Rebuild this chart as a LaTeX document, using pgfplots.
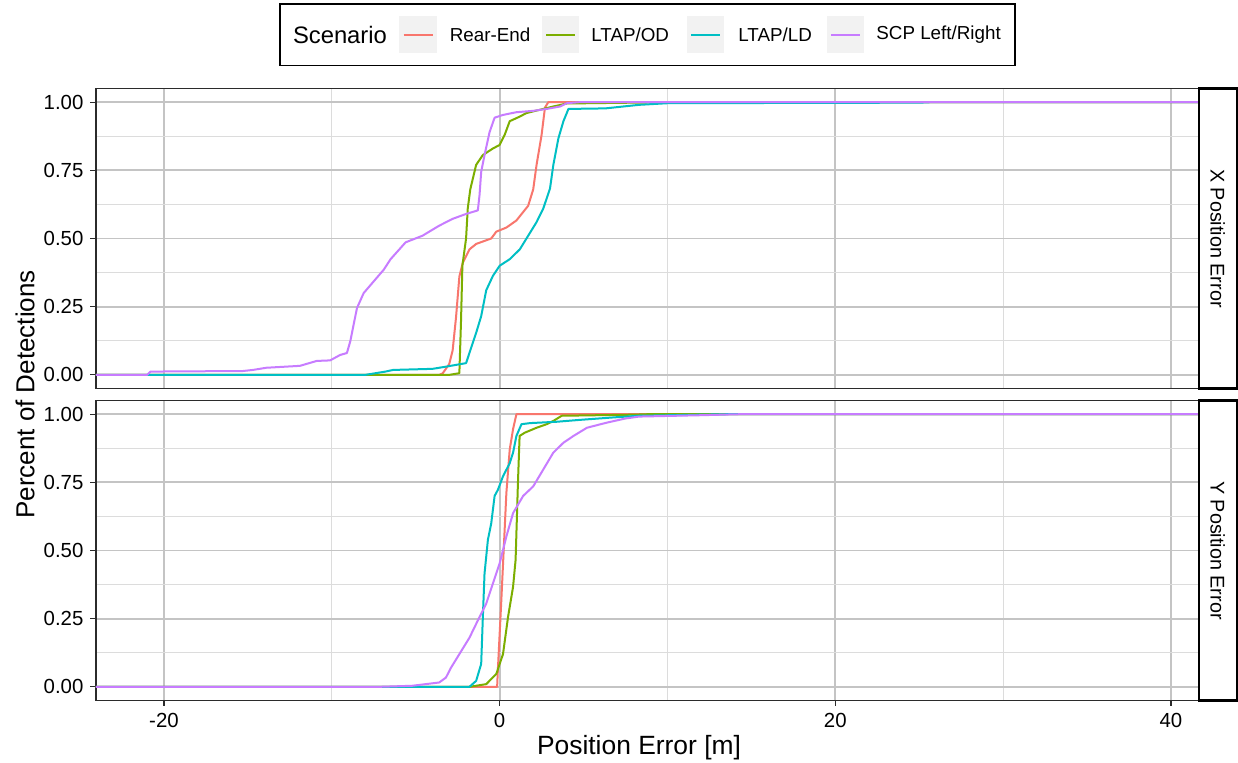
\documentclass[border=0pt]{standalone}
\usepackage{pgfplots}
\pgfplotsset{compat=1.18}
\usepackage{fontspec}
\setmainfont{Liberation Sans}

\definecolor{rearend}{HTML}{F8766D}
\definecolor{ltapod}{HTML}{7CAE00}
\definecolor{ltapld}{HTML}{00BFC4}
\definecolor{scp}{HTML}{C77CFF}
\definecolor{gridmaj}{HTML}{C4C4C4}
\definecolor{gridmin}{HTML}{DCDCDC}
\definecolor{axdark}{HTML}{2B2B2B}
\definecolor{keybg}{HTML}{F2F2F2}

\tikzset{strip/.style={draw=black, line width=1.1pt, fill=white}}

\pgfplotsset{
  ecdfpanel/.style={
    scale only axis,
    width=551.5pt, height=150pt,
    anchor=south west,
    xmin=-24.05, xmax=41.67,
    ymin=-0.05, ymax=1.05,
    xtick={-20,0,20,40},
    minor xtick={-10,10,30},
    ytick={0,0.25,0.5,0.75,1},
    minor ytick={0.125,0.375,0.625,0.875},
    yticklabel style={/pgf/number format/.cd,fixed,fixed zerofill,precision=2},
    /pgf/number format/assume math mode=true,
    tick label style={font=\fontsize{10.2}{12}\selectfont, text=black},
    grid=both,
    major grid style={draw=gridmaj, line width=0.95pt},
    minor grid style={draw=gridmin, line width=0.55pt},
    minor tick length=0pt,
    major tick length=2.75pt,
    tick align=outside,
    tick pos=left,
    tick style={draw=axdark, line width=0.6pt},
    axis line style={draw=axdark, line width=0.75pt},
    every axis plot/.append style={line width=1pt, line join=round},
    axis background/.style={fill=white},
    clip=true,
  },
}

\begin{document}
\begin{tikzpicture}[x=1pt,y=1pt]
\useasboundingbox (-48,-31.25) rectangle (571,350.25);

% ---------------- X position error ----------------
\begin{axis}[ecdfpanel, at={(0pt,156pt)}, xticklabels={},
  xtick style={draw=none},
  major x grid style={draw=gridmaj, line width=0.95pt}]
\addplot[rearend] coordinates {
(-30,0) (-3.6,0) (-3.4,0.005) (-3.0,0.04) (-2.8,0.09) (-2.6,0.21) (-2.4,0.36)
(-2.2,0.41) (-1.8,0.46) (-1.4,0.48) (-0.5,0.50) (-0.2,0.525) (0.4,0.54)
(1.0,0.566) (1.7,0.62) (2.0,0.68) (2.2,0.77) (2.5,0.88) (2.7,0.98) (2.9,1.0) (50,1)};
\addplot[ltapod] coordinates {
(-30,0) (-3.0,0) (-2.4,0.006) (-2.3,0.2) (-2.22,0.40) (-2.0,0.50) (-1.9,0.61)
(-1.75,0.68) (-1.4,0.77) (-1.0,0.806) (-0.4,0.83) (0,0.843) (0.3,0.88)
(0.6,0.93) (1.2,0.947) (1.6,0.96) (2.4,0.972) (3.2,0.984) (4.0,0.995)
(8,0.998) (10.5,1) (50,1)};
\addplot[ltapld] coordinates {
(-30,0) (-8.0,0) (-7.5,0.005) (-6.8,0.012) (-6.35,0.018) (-4,0.022)
(-3.2,0.03) (-2.0,0.043) (-1.8,0.08) (-1.4,0.154) (-1.1,0.215) (-0.8,0.31)
(-0.4,0.363) (0,0.40) (0.6,0.424) (1.2,0.46) (1.6,0.50) (2.2,0.56) (2.6,0.61)
(3.0,0.683) (3.2,0.77) (3.5,0.867) (3.8,0.93) (4.1,0.975) (6.3,0.977)
(8.3,0.99) (10,0.996) (25,0.998) (25.8,1) (50,1)};
\addplot[scp] coordinates {
(-30,0) (-21.0,0) (-20.8,0.012) (-15.3,0.014) (-14.7,0.018) (-13.9,0.026)
(-11.9,0.033) (-10.9,0.051) (-10.1,0.053) (-9.5,0.073) (-9.1,0.08)
(-8.9,0.123) (-8.5,0.245) (-8.1,0.30) (-7.5,0.343) (-6.9,0.386) (-6.5,0.424)
(-5.6,0.486) (-4.6,0.51) (-3.6,0.547) (-2.8,0.572) (-2.0,0.59) (-1.3,0.603)
(-1.2,0.658) (-1.1,0.744) (-0.9,0.806) (-0.6,0.89) (-0.3,0.943) (0.2,0.953)
(1.0,0.963) (2.0,0.968) (2.8,0.975) (3.6,0.984) (4.0,0.996) (4.8,1) (50,1)};
\end{axis}

% ---------------- Y position error ----------------
\begin{axis}[ecdfpanel, at={(0pt,0pt)}]
\addplot[rearend] coordinates {
(-30,0) (-0.15,0) (-0.1,0.07) (0.1,0.317) (0.24,0.50) (0.4,0.71) (0.6,0.87)
(0.8,0.945) (1.0,1.0) (50,1)};
\addplot[ltapod] coordinates {
(-30,0) (-1.8,0) (-0.8,0.01) (-0.2,0.047) (0.2,0.12) (0.5,0.256) (0.8,0.367)
(0.95,0.465) (1.03,0.625) (1.09,0.748) (1.19,0.92) (1.5,0.932) (2.2,0.95)
(2.8,0.963) (3.2,0.975) (3.7,0.994) (8,0.998) (9,1) (50,1)};
\addplot[ltapld] coordinates {
(-30,0) (-1.8,0) (-1.4,0.022) (-1.1,0.084) (-1.0,0.256) (-0.9,0.416)
(-0.8,0.477) (-0.7,0.539) (-0.5,0.60) (-0.3,0.70) (-0.1,0.723) (0.2,0.772)
(0.6,0.82) (0.8,0.859) (1.0,0.92) (1.3,0.963) (1.8,0.967) (3.4,0.972)
(4.8,0.979) (6.8,0.988) (8.3,0.994) (13.9,1) (50,1)};
\addplot[scp] coordinates {
(-30,0) (-7.2,0) (-5.2,0.004) (-3.6,0.016) (-3.2,0.034) (-2.9,0.07)
(-2.4,0.12) (-1.8,0.18) (-1.2,0.256) (-0.8,0.305) (-0.4,0.379) (0,0.453)
(0.4,0.551) (0.8,0.637) (1.4,0.70) (2.0,0.735) (2.6,0.797) (3.2,0.859)
(3.8,0.895) (4.4,0.92) (5.2,0.95) (6.4,0.969) (7.5,0.984) (8.3,0.991)
(12,0.996) (14.5,1) (50,1)};
\end{axis}

% facet strips
\draw[strip] (551.5,156) rectangle (570.3,306);
\node[rotate=-90, font=\fontsize{9.9}{12}\selectfont] at (560.9,231) {X Position Error};
\draw[strip] (551.5,0) rectangle (570.3,150);
\node[rotate=-90, font=\fontsize{9.9}{12}\selectfont] at (560.9,75) {Y Position Error};

% axis titles
\node[font=\fontsize{13.2}{15}\selectfont] at (271.5,-23.75) {Position Error [m]};
\node[rotate=90, font=\fontsize{13}{15}\selectfont] at (-35.5,153) {Percent of Detections};

% legend
\draw[black, line width=0.75pt, fill=white] (92,317.4) rectangle (459.5,348.25);
\node[anchor=west, inner sep=0pt, font=\fontsize{11.9}{14}\selectfont] at (98.3,332.75) {Scenario};
\foreach \kx/\col in {151.7/rearend, 223/ltapod, 295.5/ltapld, 365.5/scp}{
  \fill[keybg] (\kx,323.6) rectangle ++(18.6,18.7);
  \draw[\col, line width=1pt] (\kx+2.1,332.75) -- ++(14.6,0);
}
\node[anchor=west, inner sep=0pt, font=\fontsize{9.4}{11}\selectfont] at (176.7,332.75) {Rear-End};
\node[anchor=west, inner sep=0pt, font=\fontsize{9.4}{11}\selectfont] at (247.5,332.75) {LTAP/OD};
\node[anchor=west, inner sep=0pt, font=\fontsize{9.4}{11}\selectfont] at (321,332.75) {LTAP/LD};
\node[anchor=west, inner sep=0pt, font=\fontsize{9.4}{11}\selectfont] at (390,332.75) {SCP Left/Right};
\end{tikzpicture}
\end{document}
